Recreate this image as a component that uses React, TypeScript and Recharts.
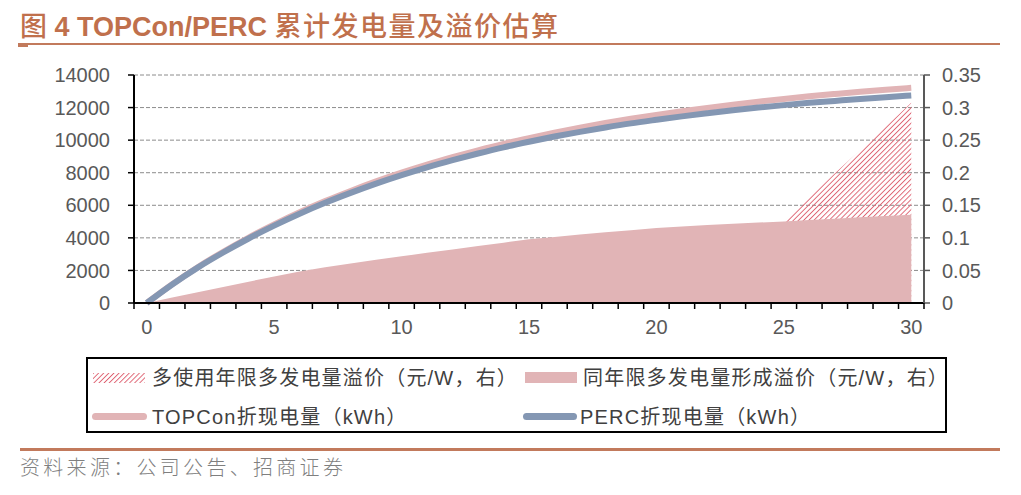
import React from 'react';
import { ComposedChart, Area, Line, XAxis, YAxis, CartesianGrid } from 'recharts';

// categories: years of operation
const years = [0, 1, 2, 3, 4, 5, 6, 7, 8, 9, 10, 11, 12, 13, 14, 15, 16, 17, 18, 19, 20, 21, 22, 23, 24, 25, 26, 27, 28, 29, 30];
const xLabelTicks = [0, 5, 10, 15, 20, 25, 30];
const leftTicks = [0, 2000, 4000, 6000, 8000, 10000, 12000, 14000];
const rightTicks = [0, 0.05, 0.1, 0.15, 0.2, 0.25, 0.3, 0.35];

// TOPCon折现电量 (kWh), left axis
const topconKwh = [0, 1150, 2200, 3145, 4020, 4825, 5570, 6255, 6880, 7465, 8000, 8495, 8950, 9375, 9770, 10125, 10460, 10765, 11050, 11315, 11550, 11775, 11980, 12175, 12360, 12530, 12690, 12835, 12975, 13100, 13210];
// PERC折现电量 (kWh), left axis
const percKwh = [0, 1140, 2170, 3100, 3960, 4750, 5480, 6150, 6760, 7330, 7850, 8330, 8770, 9180, 9560, 9900, 10220, 10510, 10780, 11030, 11250, 11460, 11650, 11830, 12000, 12150, 12290, 12410, 12530, 12640, 12740];
// 同年限多发电量形成溢价 (元/W), right axis
const samePremium = [0, 0.0083, 0.0165, 0.0246, 0.0328, 0.0408, 0.0484, 0.0548, 0.0608, 0.0663, 0.0716, 0.077, 0.0822, 0.0874, 0.0926, 0.0978, 0.1015, 0.105, 0.1085, 0.1118, 0.115, 0.1174, 0.1196, 0.1216, 0.1235, 0.1253, 0.1274, 0.1295, 0.1315, 0.1336, 0.1356];
// 多使用年限多发电量溢价 (元/W), right axis, only years 25-30
const extraPremium = [null, null, null, null, null, null, null, null, null, null, null, null, null, null, null, null, null, null, null, null, null, null, null, null, null, 0.1253, 0.162, 0.199, 0.235, 0.271, 0.3075];

const data = years.map((y, i) => ({
  year: y,
  topcon: topconKwh[i],
  perc: percKwh[i],
  same: samePremium[i],
  extra: extraPremium[i],
}));

// boundaries between yearly categories get the small tick marks
const xTicks = [...years.map(y => y - 0.5), 30.5, ...xLabelTicks].sort((a, b) => a - b);

const FONT = '"Liberation Sans", Arial, "Noto Sans CJK SC", sans-serif';
const AXIS_TEXT = '#595959';
const PINK = '#e1b4b6';
const BLUE = '#8497b3';
const HATCH = '#de6473';
const BROWN = '#c27a5c';

const XTick = (props: any) => {
  const { x, y, payload } = props;
  const v = payload.value;
  if (Number.isInteger(v)) {
    return (
      <text x={x} y={y + 31} textAnchor="middle" fill={AXIS_TEXT} fontSize={20} fontFamily={FONT}>
        {v}
      </text>
    );
  }
  return <line x1={x} y1={y} x2={x} y2={y + 6} stroke="#000" strokeWidth={1.5} />;
};

const legendText: React.CSSProperties = {
  position: 'absolute',
  fontSize: 20,
  lineHeight: '28px',
  color: '#404040',
  fontFamily: FONT,
  letterSpacing: 1.2,
  whiteSpace: 'nowrap',
};

export default function App() {
  return (
    <div style={{ position: 'absolute', left: 0, top: 0, width: 1021, height: 495, background: '#fff', overflow: 'hidden' }}>
      {/* title */}
      <div style={{ position: 'absolute', left: 20, top: 8, fontSize: 27, lineHeight: '34px', color: '#c0704c', whiteSpace: 'nowrap' }}>
        <span style={{ fontFamily: '"Noto Sans CJK SC"', fontWeight: 500 }}>图</span>
        <span style={{ fontFamily: '"Liberation Sans", Arial', fontWeight: 'bold' }}> 4 TOPCon/PERC </span>
        <span style={{ fontFamily: '"Noto Sans CJK SC"', fontWeight: 500, letterSpacing: 1.5 }}>累计发电量及溢价估算</span>
      </div>
      <div style={{ position: 'absolute', left: 20, top: 43, width: 980, height: 2, background: BROWN }} />
      <div style={{ position: 'absolute', left: 18, top: 43, width: 10, height: 4, background: BROWN }} />

      <div style={{ position: 'absolute', left: 0, top: 0 }}>
        <ComposedChart width={1021} height={340} data={data} margin={{ top: 75, right: 0, bottom: 7, left: 0 }}>
          <defs>
            <pattern id="hatch" width="3.6" height="3.6" patternUnits="userSpaceOnUse" patternTransform="rotate(45)">
              <line x1="0" y1="0" x2="0" y2="3.6" stroke={HATCH} strokeWidth={1.9} />
            </pattern>
          </defs>
          <CartesianGrid yAxisId="left" vertical={false} stroke="#8c8c8c" strokeDasharray="4 2" />
          <XAxis
            dataKey="year"
            type="number"
            domain={[-0.5, 30.5]}
            ticks={xTicks}
            interval={0}
            tick={<XTick />}
            tickLine={false}
            tickSize={0}
            tickMargin={0}
            height={30}
            axisLine={{ stroke: '#000', strokeWidth: 2 }}
          />
          <YAxis
            yAxisId="left"
            domain={[0, 14000]}
            ticks={leftTicks}
            interval={0}
            width={134}
            tickSize={6}
            tickMargin={18}
            tick={{ fill: AXIS_TEXT, fontSize: 20, fontFamily: FONT }}
            tickLine={{ stroke: '#000', strokeWidth: 1.5 }}
            axisLine={{ stroke: '#000', strokeWidth: 2 }}
          />
          <YAxis
            yAxisId="right"
            orientation="right"
            domain={[0, 0.35]}
            ticks={rightTicks}
            interval={0}
            width={97}
            tickSize={6}
            tickMargin={12}
            tick={{ fill: AXIS_TEXT, fontSize: 20, fontFamily: FONT }}
            tickLine={{ stroke: '#595959', strokeWidth: 1.5 }}
            axisLine={{ stroke: '#595959', strokeWidth: 2 }}
          />
          <Area
            yAxisId="right"
            dataKey="extra"
            type="linear"
            stroke="none"
            fill="url(#hatch)"
            fillOpacity={1}
            connectNulls={false}
            isAnimationActive={false}
          />
          <Area
            yAxisId="right"
            dataKey="same"
            type="linear"
            stroke="none"
            fill={PINK}
            fillOpacity={1}
            isAnimationActive={false}
          />
          <Line yAxisId="left" dataKey="topcon" type="monotone" stroke={PINK} strokeWidth={6} dot={false} isAnimationActive={false} />
          <Line yAxisId="left" dataKey="perc" type="monotone" stroke={BLUE} strokeWidth={6} dot={false} isAnimationActive={false} />
        </ComposedChart>
      </div>

      {/* legend */}
      <div style={{ position: 'absolute', left: 86, top: 357, width: 861, height: 76, border: '2px solid #000', boxSizing: 'border-box' }} />
      <svg style={{ position: 'absolute', left: 93, top: 373 }} width={52} height={10}>
        <defs>
          <pattern id="hatchLegend" width="3.6" height="3.6" patternUnits="userSpaceOnUse" patternTransform="rotate(45)">
            <line x1="0" y1="0" x2="0" y2="3.6" stroke={HATCH} strokeWidth={1.9} />
          </pattern>
        </defs>
        <rect x={0} y={0} width={52} height={10} fill="url(#hatchLegend)" />
      </svg>
      <div style={{ ...legendText, left: 152, top: 364 }}>多使用年限多发电量溢价（元/W，右）</div>
      <div style={{ position: 'absolute', left: 525, top: 372, width: 52, height: 11, background: PINK }} />
      <div style={{ ...legendText, left: 583, top: 364 }}>同年限多发电量形成溢价（元/W，右）</div>
      <div style={{ position: 'absolute', left: 92, top: 413, width: 55, height: 7, borderRadius: 4, background: PINK }} />
      <div style={{ ...legendText, left: 152, top: 403 }}>TOPCon折现电量（kWh）</div>
      <div style={{ position: 'absolute', left: 523, top: 413, width: 54, height: 7, borderRadius: 4, background: BLUE }} />
      <div style={{ ...legendText, left: 580, top: 403 }}>PERC折现电量（kWh）</div>

      {/* source */}
      <div style={{ position: 'absolute', left: 20, top: 453, width: 980, height: 3, background: 'transparent' }} />
      <div style={{ position: 'absolute', left: 20, top: 448, width: 980, height: 3, background: BROWN }} />
      <div style={{ position: 'absolute', left: 20, top: 453, fontSize: 20, lineHeight: '28px', color: '#7f7f7f', fontFamily: '"Noto Sans CJK SC"', fontWeight: 300, letterSpacing: 3.3, whiteSpace: 'nowrap' }}>
        资料来源：公司公告、招商证券
      </div>
    </div>
  );
}
